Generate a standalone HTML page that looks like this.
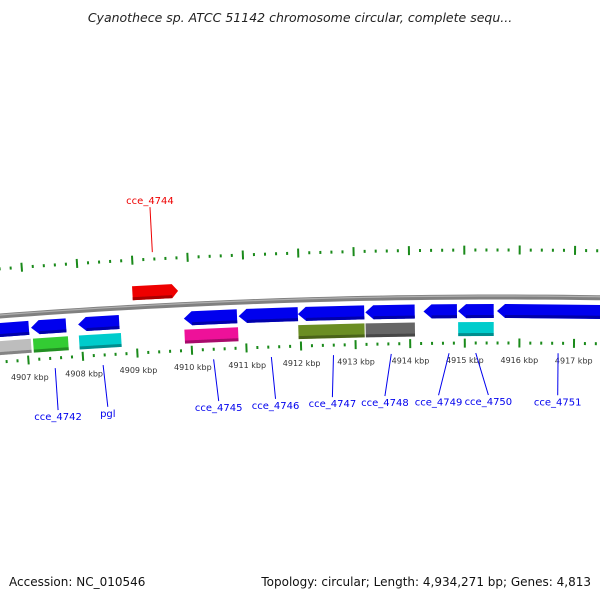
<!DOCTYPE html>
<html><head><meta charset="utf-8"><style>
body{margin:0;background:#fff;}
svg{display:block;font-family:"DejaVu Sans","Liberation Sans",sans-serif;}
</style></head><body>
<svg id="chart" width="600" height="600" viewBox="0 0 600 600" xmlns="http://www.w3.org/2000/svg">
<rect width="600" height="600" fill="#fff"/>
<text x="300" y="22" text-anchor="middle" font-size="12.5" font-style="italic" fill="#222">Cyanothece sp. ATCC 51142 chromosome circular, complete sequ...</text>
<text x="9" y="586" font-size="12" fill="#111">Accession: NC_010546</text>
<text x="591" y="586" text-anchor="end" font-size="12" fill="#111">Topology: circular; Length: 4,934,271 bp; Genes: 4,813</text>
<g id="plot"></g>
</svg>
<script>
const tickKbp = [4907,4908,4909,4910,4911,4912,4913,4914,4915,4916,4917];
const revGeneStarts = [4906.3,4907.09,4907.95,4909.88,4910.88,4911.96,4913.19,4914.25,4914.88,4915.59];
const revGeneEnds   = [4907.05,4907.73,4908.70,4910.85,4911.96,4913.17,4914.09,4914.86,4915.53,4918.2];
const fwdGeneStarts = [4908.97];
const fwdGeneEnds   = [4909.80];
const fwdGeneNames  = ["cce_4744"];
const fwdGeneLabelKbp = [4909.37];
const featStarts = [4906.3,4907.11,4907.95,4909.88,4911.96,4913.19,4914.88];
const featEnds   = [4907.07,4907.75,4908.72,4910.86,4913.17,4914.09,4915.53];
const featColors = ["#bdbdbd","#33cc33","#00cccc","#ee1199","#6b8e23","#666666","#00cccc"];
const labelNames = ["cce_4742","pgl","cce_4745","cce_4746","cce_4747","cce_4748","cce_4749","cce_4750","cce_4751"];
const labelAnchorKbp = [4907.48,4908.36,4910.39,4911.45,4912.59,4913.65,4914.71,4915.20,4916.71];
const labelTextKbp   = [4907.48,4908.40,4910.45,4911.50,4912.55,4913.52,4914.51,4915.43,4916.71];

const NS="http://www.w3.org/2000/svg";
const plot=document.getElementById('plot');
const Rin=6550, CX=500, CY=343+Rin, PXK=54.6, K0=4907, X0=28;
function ang(k){return ((X0+(k-K0)*PXK)-CX)/Rin;}
function pt(k,dr){const t=ang(k),r=Rin+dr;return [CX+r*Math.sin(t),CY-r*Math.cos(t)];}
function el(tag,attrs,parent){const e=document.createElementNS(NS,tag);for(const a in attrs)e.setAttribute(a,attrs[a]);(parent||plot).appendChild(e);return e;}
function arcPath(k1,k2,dr){let d='';const n=40;for(let i=0;i<=n;i++){const p=pt(k1+(k2-k1)*i/n,dr);d+=(i?'L':'M')+p[0].toFixed(2)+','+p[1].toFixed(2);}return d;}

let bb=el('path',{d:arcPath(4906.2,4918.3,46),stroke:'#808080','stroke-width':5,fill:'none'});


let bbh=el('path',{d:arcPath(4906.2,4918.3,47),stroke:'#b0b0b0','stroke-width':1.2,fill:'none'});



function ticks(dr,name){for(let k=4906.4;k<=4918.2;k+=0.2){const kk=Math.round(k*5)/5;const major=Math.abs(kk-Math.round(kk))<0.01;const a=pt(kk,dr+(major?4.5:1.5)),b=pt(kk,dr-(major?4.5:1.5));
 const t=el('line',{x1:a[0],y1:a[1],x2:b[0],y2:b[1],stroke:'#1a8a1a','stroke-width':2});
 
 }}
ticks(93,'outer-tick');
ticks(0,'inner-tick');

tickKbp.forEach(k=>{const p=pt(k,-20);const t=el('text',{x:p[0],y:p[1],'text-anchor':'middle','font-size':8,fill:'#333'});t.textContent=k+' kbp';
 
 });

function shape(k1,k2,dr1,dr2,head,dir,fill,dark,name){
 let pts=[];const hk=head/PXK;
 if(dir<0){
  pts=[pt(k1,(dr1+dr2)/2),pt(k1+hk,dr1),pt(k2,dr1),pt(k2,dr2),pt(k1+hk,dr2)];
 }else if(dir>0){
  pts=[pt(k1,dr1),pt(k2-hk,dr1),pt(k2,(dr1+dr2)/2),pt(k2-hk,dr2),pt(k1,dr2)];
 }else{pts=[pt(k1,dr1),pt(k2,dr1),pt(k2,dr2),pt(k1,dr2)];}
 const g=el('polygon',{points:pts.map(p=>p[0].toFixed(2)+','+p[1].toFixed(2)).join(' '),fill:fill});
 
 
 const s=el('path',{d:arcPath(k1+(dir<0?hk:0),k2-(dir>0?hk:0),dr2+1.5),stroke:dark,'stroke-width':3,fill:'none'});
 
 
}
revGeneStarts.forEach((s,i)=>shape(s,revGeneEnds[i],39,25,8,-1,'#0000ee','#0000aa','reverse-gene-'+i));
fwdGeneStarts.forEach((s,i)=>shape(s,fwdGeneEnds[i],67,53,6,1,'#ee0000','#aa0000','forward-gene-'+i));
featStarts.forEach((s,i)=>shape(s,featEnds[i],21,7,0,0,featColors[i],'rgba(0,0,0,0.3)','feature-'+i));

labelNames.forEach((n,i)=>{const a=pt(labelAnchorKbp[i],-10),b=pt(labelTextKbp[i],-52);
 const l=el('line',{x1:a[0],y1:a[1],x2:b[0],y2:b[1],stroke:'#0000ee','stroke-width':1});
 
 
 const t=el('text',{x:b[0],y:b[1]+10,'text-anchor':'middle','font-size':10,fill:'#0000ee'});t.textContent=n;
 
 });
fwdGeneNames.forEach((n,i)=>{const a=pt(fwdGeneLabelKbp[i],100),b=pt(fwdGeneLabelKbp[i],145);
 const l=el('line',{x1:a[0],y1:a[1],x2:b[0],y2:b[1],stroke:'#ee0000','stroke-width':1});
 
 
 const t=el('text',{x:b[0],y:b[1]-3,'text-anchor':'middle','font-size':10,fill:'#ee0000'});t.textContent=n;
 
 });
</script>
</body></html>
